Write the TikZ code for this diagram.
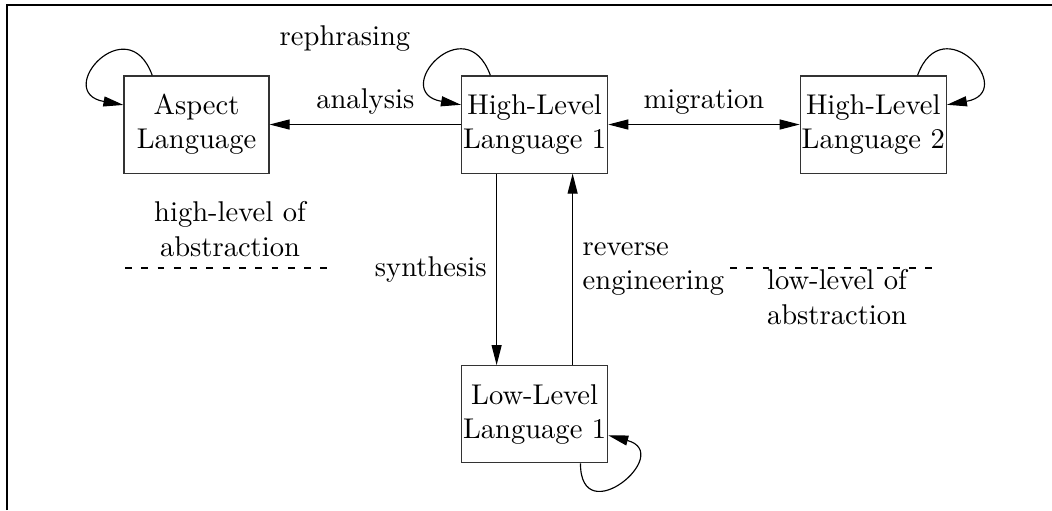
\documentclass[tikz,border=0pt]{standalone}
\usepackage{tikz}
\usetikzlibrary{arrows.meta,positioning}

\begin{document}
\begin{tikzpicture}[
            x = 0.35pt, y = -0.35pt, % one unit per pixel, y downwards
            > = {Triangle[length=7pt,width=3.5pt]}, % arrow head style
            node distance = 67pt, % gap between boxes
            thin, % line style
            lang/.style = {draw=black!80, rectangle, align=center,
                minimum width=50.75pt, minimum height=34pt, inner sep=0.5pt},
            level/.style = {align=center}
        ]

	\useasboundingbox (0,0) rectangle (1052,510);
	\draw[line width=0.7pt] (7,510) -- (7,5) -- (1052,5);

	\node[lang] (aspect) at (196.5,124.5) {Aspect\\Language};
	\node[lang] (hl1) [right=of aspect] {High-Level\\Language 1};
	\node[lang] (hl2) [right=of hl1] {High-Level\\Language 2};
	\node[lang] (ll1) [below=of hl1] {Low-Level\\Language 1};

	\draw[->] (hl1) edge node[above] {analysis} (aspect);
	\draw[<->] (hl1) edge node[above] {migration} (hl2);
	\draw[->] ([xshift=-13.3pt]hl1.south) -- node[left] {synthesis} ([xshift=-13.3pt]ll1.north);
	\draw[->] ([xshift=13.3pt]ll1.north) -- node[right,align=left] {reverse\\engineering} ([xshift=13.3pt]hl1.south);

	% self loops
	\draw[->] (aspect.132) to[out=110,in=170,looseness=4.5] (aspect.165);
	\draw[->] (hl1.132) to[out=110,in=170,looseness=4.5] (hl1.165);
	\draw[->] (hl2.48) to[out=70,in=10,looseness=4.5] (hl2.15);
	\draw[->] (ll1.-47) to[out=-90,in=-15,looseness=4.5] (ll1.-16);
	\node[anchor=base] (rephrasing) at (345,45) {rephrasing};

	% levels of abstraction
	\node[level] (high) at (230,229) {high-level of\\abstraction};
	\node[level] (low) at (837,297) {low-level of\\abstraction};
	\coordinate (high-a) at (125,268);
	\coordinate (high-b) at (335,268);
	\coordinate (low-a) at (730,268);
	\coordinate (low-b) at (940,268);
	\draw[dash pattern=on 2.4pt off 3.3pt] (high-a) -- (high-b);
	\draw[dash pattern=on 2.4pt off 3.3pt] (low-a) -- (low-b);
   
\end{tikzpicture}
\end{document}
